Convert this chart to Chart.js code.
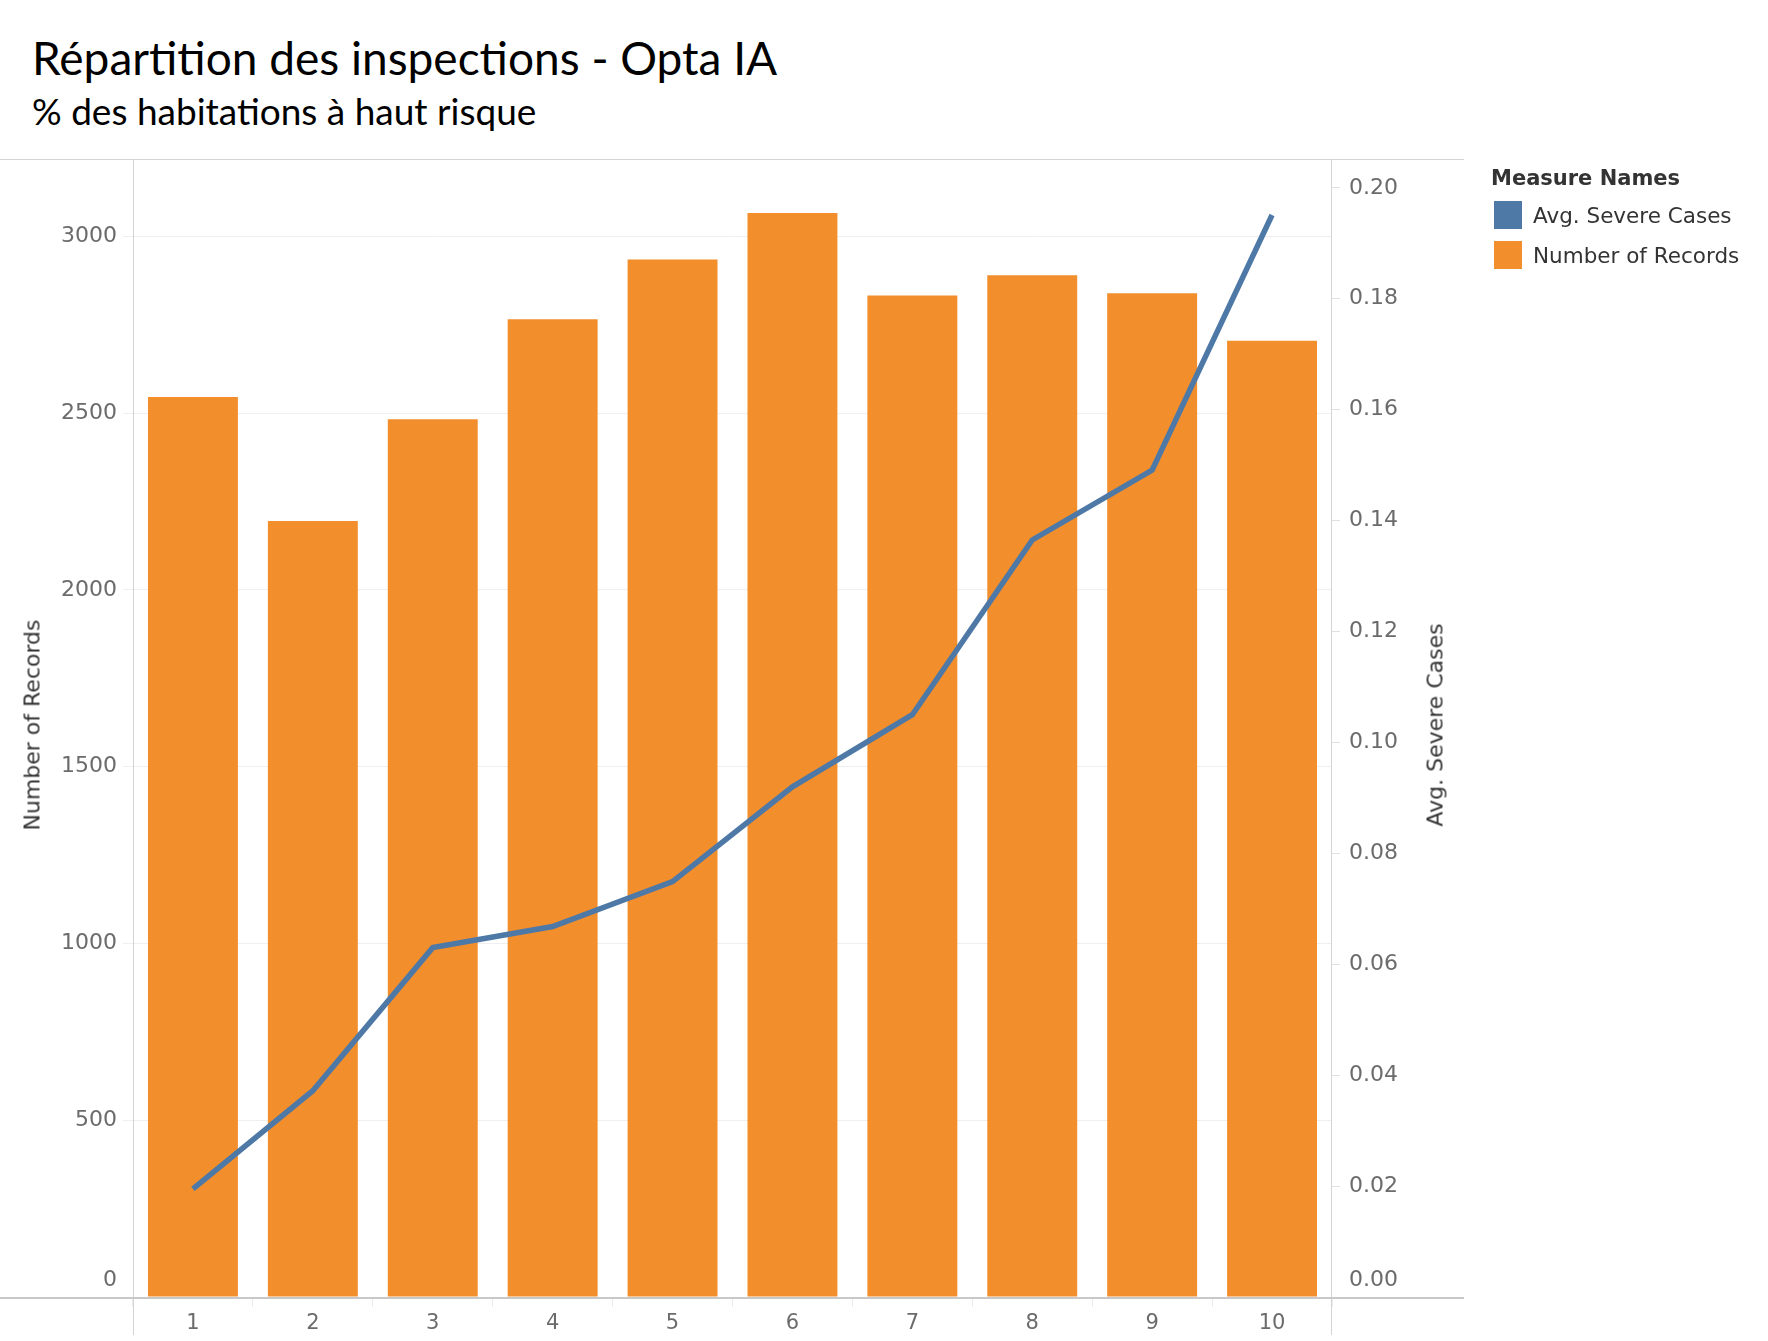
<!DOCTYPE html>
<html>
<head>
<meta charset="utf-8">
<script src="https://cdn.jsdelivr.net/npm/chart.js@4.4.1/dist/chart.umd.min.js"></script>
<style>
  html, body { margin: 0; padding: 0; background: #fff; }
  body { width: 1768px; height: 1341px; position: relative; overflow: hidden; }
  #chart { position: absolute; left: 0; top: 0; }
  .title { position: absolute; left: 32px; top: 30px; font-family: Lato, sans-serif; font-size: 46px; color: #000; white-space: nowrap; }
  .subtitle { position: absolute; left: 32px; top: 88px; font-family: Lato, sans-serif; font-size: 37px; color: #000; white-space: nowrap; }
  .axis-title { position: absolute; font-family: "DejaVu Sans", sans-serif; font-size: 22px; color: #333; white-space: nowrap; transform: translate(-50%, -50%) rotate(-90deg); }
  .legend { position: absolute; left: 1491px; top: 166px; font-family: "DejaVu Sans", sans-serif; color: #333; }
  .legend .head { font-size: 21px; font-weight: bold; margin-bottom: 5px; }
  .legend .row { display: flex; align-items: center; height: 40px; font-size: 21.5px; }
  .legend .sw { width: 28px; height: 28px; margin-right: 11px; margin-left: 3px; }
</style>
</head>
<body>
<div class="title">Répartition des inspections - Opta IA</div>
<div class="subtitle">% des habitations à haut risque</div>
<canvas id="chart" width="1768" height="1341"></canvas>
<div class="axis-title" style="left:32px; top:725px;">Number of Records</div>
<div class="axis-title" style="left:1435px; top:725px;">Avg. Severe Cases</div>
<div class="legend" id="legend"></div>
<script>
// données
const categories = ['1', '2', '3', '4', '5', '6', '7', '8', '9', '10'];
const numberOfRecords = [2546, 2195, 2483, 2766, 2935, 3066, 2833, 2890, 2839, 2705];
const avgSevereCases = [0.0195, 0.0372, 0.0630, 0.0668, 0.0749, 0.0920, 0.1050, 0.1365, 0.1491, 0.1951];
const recordTicks = [0, 500, 1000, 1500, 2000, 2500, 3000];
const severeTicks = [0, 0.02, 0.04, 0.06, 0.08, 0.10, 0.12, 0.14, 0.16, 0.18, 0.20];

const orange = '#F28E2B';
const blue = '#4E79A7';

// legende HTML
const legendItems = [['Avg. Severe Cases', blue], ['Number of Records', orange]];
let html = '<div class="head">Measure Names</div>';
legendItems.forEach(function(it) {
  html += '<div class="row"><div class="sw" style="background:' + it[1] + '"></div>' + it[0] + '</div>';
});
document.getElementById('legend').innerHTML = html;

// lignes de cadre façon Tableau
const frameLines = {
  id: 'frameLines',
  afterDraw: function(chart) {
    const ctx = chart.ctx;
    const a = chart.chartArea;
    ctx.save();
    ctx.strokeStyle = '#d4d4d4';
    ctx.lineWidth = 1;
    ctx.beginPath();
    ctx.moveTo(0, a.top + 0.5); ctx.lineTo(1464, a.top + 0.5);
    ctx.moveTo(a.left + 0.5, a.top); ctx.lineTo(a.left + 0.5, a.bottom + 38);
    ctx.moveTo(a.right - 0.5, a.top); ctx.lineTo(a.right - 0.5, a.bottom + 38);
    ctx.stroke();
    ctx.strokeStyle = '#c8c8c8';
    ctx.lineWidth = 2;
    ctx.beginPath();
    ctx.moveTo(0, a.bottom + 1); ctx.lineTo(1464, a.bottom + 1);
    ctx.stroke();
    ctx.restore();
  }
};

// le libellé 0 est remonté au-dessus de l'axe (ligne vide en dessous)
function zeroLift(label, value) {
  return value === 0 ? [label, ''] : label;
}
function tickFont(c) {
  return { size: 22, lineHeight: (c.tick && c.tick.value === 0) ? 1.55 : 1.2 };
}

Chart.defaults.font.family = '"DejaVu Sans", sans-serif';

const ctx = document.getElementById('chart').getContext('2d');
const chart = new Chart(ctx, {
  type: 'bar',
  data: {
    labels: categories,
    datasets: [
      {
        type: 'line',
        label: 'Avg. Severe Cases',
        data: avgSevereCases,
        yAxisID: 'y1',
        borderColor: blue,
        borderWidth: 5.5,
        pointRadius: 0,
        tension: 0,
        order: 0
      },
      {
        type: 'bar',
        label: 'Number of Records',
        data: numberOfRecords,
        yAxisID: 'y',
        backgroundColor: orange,
        barPercentage: 0.75,
        categoryPercentage: 1,
        order: 1
      }
    ]
  },
  options: {
    responsive: false,
    animation: false,
    devicePixelRatio: 1,
    layout: { padding: { top: 159, right: 300, bottom: 0, left: 0 } },
    plugins: { legend: { display: false }, tooltip: { enabled: false } },
    scales: {
      x: {
        grid: { offset: true, drawOnChartArea: false, tickLength: 10, color: '#ececec' },
        border: { display: false },
        ticks: { color: '#6b6b6b', font: { size: 21 }, padding: 4 },
        afterFit: function(s) { s.height = 44; }
      },
      y: {
        position: 'left',
        min: 0,
        max: 3219,
        grid: { color: '#efefef', tickLength: 10 },
        border: { display: false },
        ticks: {
          color: '#6b6b6b', font: tickFont, padding: 6,
          callback: function(v) { return zeroLift(String(v), v); }
        },
        afterBuildTicks: function(s) { s.ticks = recordTicks.map(function(v) { return { value: v }; }); },
        afterFit: function(s) { s.width = 133; }
      },
      y1: {
        position: 'right',
        min: 0,
        max: 0.2052,
        grid: { drawOnChartArea: false, tickLength: 8, color: '#e0e0e0' },
        border: { display: false },
        ticks: {
          color: '#6b6b6b', font: tickFont, padding: 9,
          callback: function(v) { return zeroLift(v.toFixed(2), v); }
        },
        afterBuildTicks: function(s) { s.ticks = severeTicks.map(function(v) { return { value: v }; }); },
        afterFit: function(s) { s.width = 136; }
      }
    }
  },
  plugins: [frameLines]
});
</script>
</body>
</html>
